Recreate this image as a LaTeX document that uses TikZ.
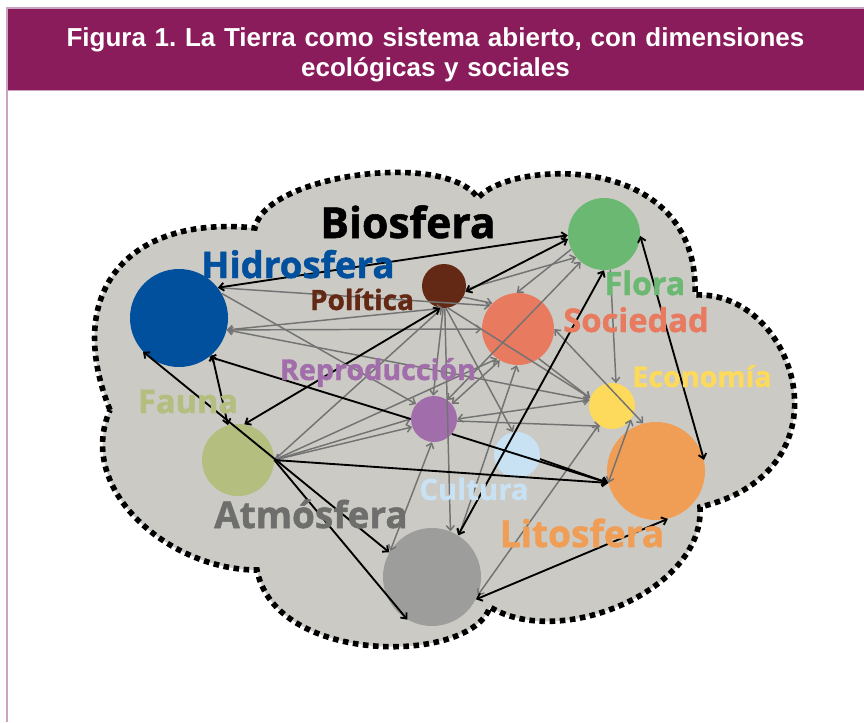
\documentclass[tikz,border=0pt]{standalone}
\usepackage{fontspec}
\setmainfont{Liberation Sans}
\newfontfamily\osans{Open Sans Bold}[FakeBold=1.3]
\usepackage{xcolor}
\usetikzlibrary{arrows.meta}
\definecolor{tbar}{RGB}{138,28,92}
\definecolor{frm}{RGB}{204,162,194}
\definecolor{bgc}{RGB}{203,202,196}
\definecolor{cHid}{RGB}{0,80,158}
\definecolor{cFlo}{RGB}{107,184,114}
\definecolor{cPol}{RGB}{100,41,20}
\definecolor{cSoc}{RGB}{232,122,95}
\definecolor{cRep}{RGB}{161,110,171}
\definecolor{cEco}{RGB}{253,218,91}
\definecolor{cCul}{RGB}{200,225,243}
\definecolor{cLit}{RGB}{240,157,86}
\definecolor{cFau}{RGB}{179,190,127}
\definecolor{cAtm}{RGB}{157,157,155}
\definecolor{tAtm}{RGB}{110,110,108}
\definecolor{lnk}{RGB}{115,115,115}
\tikzstyle{orb} = [circle, inner sep=0pt]
\tikzstyle{lbl} = [font=\osans, anchor=base, inner sep=0pt]
\tikzstyle{blk} = [black, line width=1.4pt, <->]
\tikzstyle{gry} = [lnk, line width=1.1pt, <->]

\begin{document}
\begin{tikzpicture}[x=0.75pt, y=-0.75pt, >={Straight Barb[length=3.5pt,width=6pt]}]
\useasboundingbox (0,0) rectangle (864,722);
% frame and title
\node[fill=tbar, minimum width=642.75pt, minimum height=60.75pt, inner sep=0pt] (ttl) at (435.5,49.5) {};
\node[text width=620pt, align=center, text=white,
      font=\fontsize{19.5}{22.5}\selectfont\bfseries\frenchspacing] (ttxt) at (435.5,55)
      {Figura 1. La Tierra como sistema abierto, con dimensiones\\ecológicas y sociales};
\draw[frm, line width=1.2pt] (7,722) |- (864,8);
\draw[frm, line width=1.2pt] (7,90.5) -- (864,90.5);
% cloud
\path[fill=bgc] (110,410) .. controls (62,290) and (130,215) .. (255,228)
  .. controls (265,175) and (445,150) .. (478,198)
  .. controls (510,160) and (700,150) .. (695,295)
  .. controls (795,290) and (855,470) .. (700,507)
  .. controls (705,590) and (560,650) .. (490,607)
  .. controls (470,665) and (275,665) .. (257,570)
  .. controls (170,570) and (75,490) .. cycle;
\draw[black, line width=4.2pt, dash pattern=on 4.2pt off 3.4pt]
  (110,410) .. controls (62,290) and (130,215) .. (255,228)
  .. controls (265,175) and (445,150) .. (478,198)
  .. controls (510,160) and (700,150) .. (695,295)
  .. controls (795,290) and (855,470) .. (700,507)
  .. controls (705,590) and (560,650) .. (490,607)
  .. controls (470,665) and (275,665) .. (257,570)
  .. controls (170,570) and (75,490) .. cycle;
% circles
\node[orb, fill=cHid, minimum size=73.5pt] (hid) at (179,318) {};
\node[orb, fill=cFlo, minimum size=54pt] (flo) at (604,234) {};
\node[orb, fill=cPol, minimum size=33pt] (pol) at (444,286) {};
\node[orb, fill=cSoc, minimum size=54pt] (soc) at (518,329) {};
\node[orb, fill=cRep, minimum size=34.5pt] (rep) at (434,419) {};
\node[orb, fill=cEco, minimum size=34.5pt] (eco) at (612,406) {};
\node[orb, fill=cCul, minimum size=34.5pt] (cul) at (517,455) {};
\node[orb, fill=cLit, minimum size=73.5pt] (lit) at (656,471) {};
\node[orb, fill=cFau, minimum size=54pt] (fau) at (238,460) {};
\node[orb, fill=cAtm, minimum size=73.5pt] (atm) at (432,577) {};
% gray links
\draw[gry,->] (hid.38) -- (soc.140);
\draw[gry] (hid.-14) -- (pol.-92);
\draw[gry] (hid.-14) -- (eco.165);
\draw[gry,->] (hid.30) -- (rep.140);
\draw[gry,->] (hid.-14) -- (soc.180);
\draw[gry,->] (pol.-30) -- (soc.135);
\draw[gry,->] (pol.-8) -- (flo.-140);
\draw[gry,->] (flo.-155) -- (soc.92);
\draw[gry] (flo.-130) -- (rep.55);
\draw[gry,->] (flo.-80) -- (eco.80);
\draw[gry,->] (pol.-92) -- (rep.92);
\draw[gry,->] (pol.-88) -- (atm.68);
\draw[gry,->] (pol.-85) -- (cul.100);
\draw[gry,->] (pol.-80) -- (eco.160);
\draw[gry,<-] (pol.-95) -- (fau.0);
\draw[gry] (fau.0) -- (rep.180);
\draw[gry] (fau.0) -- (rep.-160);
\draw[gry] (fau.0) -- (soc.-125);
\draw[gry,->] (soc.-55) -- (eco.160);
\draw[gry] (soc.0) -- (lit.105);
\draw[gry] (soc.-92) -- (atm.57);
\draw[gry] (soc.-120) -- (rep.40);
\draw[gry] (rep.0) -- (eco.165);
\draw[gry,->] (rep.-5) -- (eco.-120);
\draw[gry] (eco.-125) -- (atm.-22);
\draw[gry] (eco.-35) -- (lit.-166);
\draw[gry] (rep.-95) -- (atm.148);
% black links
\draw[blk] (hid.38) -- (flo.-178);
\draw[blk] (pol.-15) -- (flo.-172);
\draw[blk] (hid.-137) -- (atm.150);
\draw[blk] (hid.-48) -- (fau.106);
\draw[blk,<-] (hid.-52) -- (rep.180);
\draw[blk] (fau.80) -- (pol.-100);
\draw[blk,->] (fau.0) -- (atm.-120);
\draw[blk,->] (fau.0) -- (lit.-166);
\draw[blk,->] (rep.-40) -- (lit.-166);
\draw[blk,->] (cul.-10) -- (lit.-166);
\draw[blk] (atm.58) -- (flo.-90);
\draw[blk] (atm.-27) -- (lit.-76);
\draw[blk] (flo.-3) -- (lit.13);
% labels
\node[lbl, font=\osans\fontsize{32}{36}\selectfont] (tBio) at (408,238) {Biosfera};
\node[lbl, text=cHid, font=\osans\fontsize{27.5}{30}\selectfont] (tHid) at (298,278) {Hidrosfera};
\node[lbl, text=cPol, font=\osans\fontsize{21}{24}\selectfont] (tPol) at (362,310) {Política};
\node[lbl, text=cFlo, font=\osans\fontsize{24}{27}\selectfont] (tFlo) at (645,295) {Flora};
\node[lbl, text=cSoc, font=\osans\fontsize{24.5}{27}\selectfont] (tSoc) at (636,332) {Sociedad};
\node[lbl, text=cRep, font=\osans\fontsize{21.5}{24}\selectfont] (tRep) at (378,380) {Reproducción};
\node[lbl, text=cEco, font=\osans\fontsize{21.5}{24}\selectfont] (tEco) at (702,387) {Economía};
\node[lbl, text=cFau, font=\osans\fontsize{24.4}{27}\selectfont] (tFau) at (188,413) {Fauna};
\node[lbl, text=cCul, font=\osans\fontsize{22}{25}\selectfont] (tCul) at (474,500) {Cultura};
\node[lbl, text=tAtm, font=\osans\fontsize{27.7}{30}\selectfont] (tAtm) at (311,528) {Atmósfera};
\node[lbl, text=cLit, font=\osans\fontsize{27.8}{30}\selectfont] (tLit) at (582,547) {Litosfera};
\end{tikzpicture}
\end{document}
